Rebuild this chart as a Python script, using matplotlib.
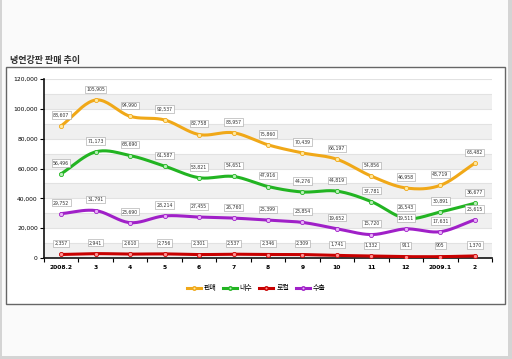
import numpy as np
import matplotlib
matplotlib.use("Agg")
import matplotlib.pyplot as plt
from matplotlib.patches import Rectangle
from matplotlib.lines import Line2D

plt.rcParams['font.family'] = ['Noto Sans CJK KR', 'DejaVu Sans']

# データ
months = ["2008.2", "3", "4", "5", "6", "7", "8", "9", "10", "11", "12", "2009.1", "2"]
sales = [88607, 105905, 94990, 92537, 82758, 83957, 75860, 70439, 66197, 54856, 46958, 48719, 63482]
domestic = [56496, 71173, 68690, 61587, 53821, 54651, 47916, 44276, 44819, 37781, 26543, 30891, 36677]
local = [2357, 2941, 2610, 2756, 2301, 2537, 2346, 2309, 1741, 1332, 911, 905, 1370]
export = [29752, 31791, 23690, 28214, 27455, 26760, 25399, 23854, 19652, 15720, 19511, 17631, 25615]
series_names = ["판매", "내수", "로컬", "수출"]

colors = ["#F0A818", "#22B422", "#C80000", "#A020C8"]
light = ["#FFE9A0", "#B8F0B8", "#FF9090", "#E8B0F8"]


def smooth(x, y, n=20):
    # Catmull-Rom スプライン
    x = np.asarray(x, float)
    y = np.asarray(y, float)
    px = np.concatenate([[2 * x[0] - x[1]], x, [2 * x[-1] - x[-2]]])
    py = np.concatenate([[2 * y[0] - y[1]], y, [2 * y[-1] - y[-2]]])
    xs, ys = [], []
    t = np.linspace(0, 1, n, endpoint=False)
    for i in range(1, len(px) - 2):
        for p, out in ((px, xs), (py, ys)):
            p0, p1, p2, p3 = p[i - 1], p[i], p[i + 1], p[i + 2]
            out.extend(0.5 * (2 * p1 + (-p0 + p2) * t
                              + (2 * p0 - 5 * p1 + 4 * p2 - p3) * t ** 2
                              + (-p0 + 3 * p1 - 3 * p2 + p3) * t ** 3))
    xs.append(x[-1])
    ys.append(y[-1])
    return np.array(xs), np.array(ys)


W, H = 512, 359
fig = plt.figure(figsize=(W / 100, H / 100), dpi=100)
fig.patch.set_facecolor("#d4d4d4")
fig.patches.append(Rectangle((2 / W, 3 / H), 506 / W, 1 - 3 / H, transform=fig.transFigure,
                             facecolor="#fafafa", edgecolor="none", zorder=-3))
fig.patches.append(Rectangle((6 / W, 1 - 304 / H), 499 / W, 237 / H, transform=fig.transFigure,
                             facecolor="white", edgecolor="#666666", linewidth=1.0, zorder=-2))
fig.text(10 / W, 1 - 60 / H, "냉연강판 판매 추이", fontsize=6.5, fontweight="bold",
         color="#333333", ha="left", va="center")

ax = fig.add_axes([44 / W, 1 - 258 / H, 448 / W, 179 / H])
ax.set_zorder(1)
ax.patch.set_alpha(0)

# 背景の縞模様
for lo in range(0, 120000, 20000):
    ax.axhspan(lo, lo + 10000, facecolor="#f0f0f0", edgecolor="none", zorder=0)
for v in range(10000, 120001, 10000):
    ax.axhline(v, color="#e2e2e2", linewidth=0.8, zorder=0.5)

x = np.arange(len(months))
for vals, name, c, lc in zip([sales, domestic, local, export], series_names, colors, light):
    sx, sy = smooth(x, vals)
    ax.plot(sx, sy, color=c, linewidth=2.2, zorder=3, solid_capstyle="round")
    ax.plot(x, vals, linestyle="none", marker="o", markersize=3, markerfacecolor=lc,
            markeredgecolor=c, markeredgewidth=0.6, zorder=4)
    for xi, v in zip(x, vals):
        ax.annotate(f"{v:,}", (xi, v), xytext=(0, 6), textcoords="offset points",
                    ha="center", va="bottom", fontsize=3.3, color="#333333",
                    family="DejaVu Sans", zorder=5,
                    bbox=dict(boxstyle="square,pad=0.25", facecolor="white",
                              edgecolor="#a0a0a0", linewidth=0.4))

ax.set_xlim(-0.5, len(months) - 0.5)
ax.set_ylim(0, 120000)
ax.set_yticks(range(0, 120001, 20000))
ax.set_yticklabels([f"{v:,}" for v in range(0, 120001, 20000)], fontsize=4.3,
                   family="DejaVu Sans")
ax.set_xticks(x)
ax.set_xticklabels(months, fontsize=4.3, family="DejaVu Sans", fontweight="bold")
ax.set_xticks(np.arange(-0.5, len(months)), minor=True)
ax.tick_params(axis="x", which="major", length=0, pad=5)
ax.tick_params(axis="x", which="minor", length=3, width=0.8, direction="out")
ax.tick_params(axis="y", length=3, width=0.8, direction="out", pad=1.5)
for s in ["top", "right"]:
    ax.spines[s].set_visible(False)
for s in ["left", "bottom"]:
    ax.spines[s].set_linewidth(1.2)
    ax.spines[s].set_color("#111111")

handles = [Line2D([], [], color=c, linewidth=2.2, marker="o", markersize=2.5,
                  markerfacecolor=lc, markeredgecolor=c) for c, lc in zip(colors, light)]
fig.legend(handles, series_names, loc="center", bbox_to_anchor=(256 / W, 1 - 288 / H),
           ncol=4, frameon=False, fontsize=5, handlelength=2.0, handletextpad=0.4,
           columnspacing=1.0)

fig.savefig("out.png", dpi=100)
